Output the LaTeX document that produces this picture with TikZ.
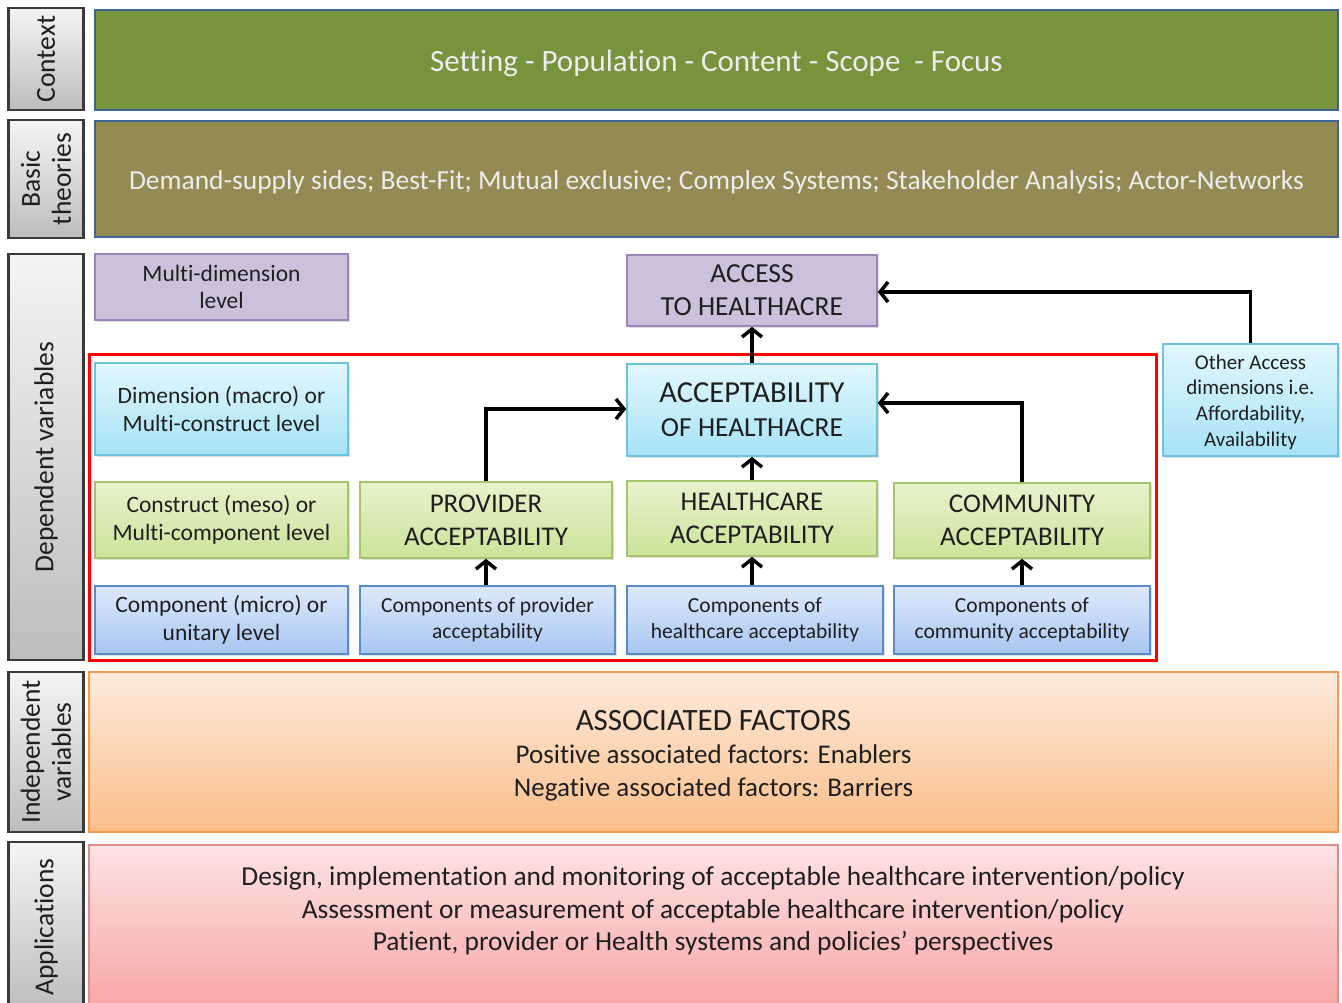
\documentclass[tikz,border=0pt]{standalone}
\usepackage{fontspec}
\setmainfont{Carlito}[Ligatures={NoCommon,NoRare,NoContextual}]
\usetikzlibrary{arrows.meta,shadows}
\definecolor{txt}{HTML}{1F1F1F}
\definecolor{labtop}{HTML}{F4F4F4}
\definecolor{labbot}{HTML}{BDBDBD}
\definecolor{labdraw}{HTML}{3A3A3A}
\definecolor{ctxfill}{HTML}{77933C}
\definecolor{thfill}{HTML}{948A54}
\definecolor{bluedraw}{HTML}{3E6496}
\definecolor{purfill}{HTML}{CCC0DA}
\definecolor{purdraw}{HTML}{9A84B8}
\definecolor{cyantop}{HTML}{E2F7FD}
\definecolor{cyanbot}{HTML}{A6E3F6}
\definecolor{cyandraw}{HTML}{6CC3DD}
\definecolor{grntop}{HTML}{E6F2CC}
\definecolor{grnbot}{HTML}{CBE49A}
\definecolor{grndraw}{HTML}{A6C56A}
\definecolor{blutop}{HTML}{DEE9FA}
\definecolor{blubot}{HTML}{A8C6F2}
\definecolor{bludraw}{HTML}{5B8BC9}
\definecolor{ortop}{HTML}{FDEBDC}
\definecolor{orbot}{HTML}{FBBE8A}
\definecolor{ordraw}{HTML}{F59A4E}
\definecolor{pktop}{HTML}{FDE3E3}
\definecolor{pkbot}{HTML}{F8A6A6}
\definecolor{pkdraw}{HTML}{DE8C8C}
\tikzset{
  base/.style={rectangle, align=center, inner sep=2pt, text=txt},
  labbox/.style={base, draw=labdraw, line width=2.2pt, top color=labtop, bottom color=labbot, minimum width=75},
  labtext/.style={rotate=90, align=center, text=txt, font=\fontsize{27.5}{31}\selectfont},
  bandbox/.style={base, draw=bluedraw, line width=2.2pt},
  bandtext/.style={text=white!93!black, align=center},
  shd/.style={drop shadow={shadow xshift=1.5pt, shadow yshift=-2pt, opacity=0.25}},
  purbox/.style={base, draw=purdraw, line width=1.6pt, fill=purfill, shd},
  cyanbox/.style={base, draw=cyandraw, line width=1.6pt, top color=cyantop, bottom color=cyanbot, shd},
  grnbox/.style={base, draw=grndraw, line width=1.6pt, top color=grntop, bottom color=grnbot, shd},
  blubox/.style={base, draw=bludraw, line width=1.6pt, top color=blutop, bottom color=blubot, shd},
  arr/.style={line width=3.5pt, -{Straight Barb[length=8pt,width=20pt,line width=3.5pt]}},
}
\begin{document}
\begin{tikzpicture}[x=1pt,y=-1pt]
\useasboundingbox (0,0) rectangle (1342,1002);
% left labels
\node[labbox, minimum height=102] (l1) at (46,59) {};
\node[labtext] (l1t) at (l1.center) {Context};
\node[labbox, minimum height=118] (l2) at (46,179) {};
\node[labtext] (l2t) at (l2.center) {Basic\\theories};
\node[labbox, minimum height=406] (l3) at (46,457) {};
\node[labtext] (l3t) at (l3.center) {Dependent variables};
\node[labbox, minimum height=160] (l4) at (46,752) {};
\node[labtext] (l4t) at (l4.center) {Independent\\variables};
\node[labbox, minimum height=170] (l5) at (46,927) {};
\node[labtext] (l5t) at (l5.center) {Applications};
% bands
\node[bandbox, fill=ctxfill, minimum width=1243, minimum height=100] (ctx) at (716.5,60) {};
\node[bandtext, font=\fontsize{31}{34}\selectfont] (ctxt) at (716.5,63) {Setting - Population - Content - Scope \ - Focus};
\node[bandbox, fill=thfill, minimum width=1243, minimum height=116] (th) at (716.5,179) {};
\node[bandtext, font=\fontsize{27.5}{30}\selectfont] (tht) at (716.5,182) {Demand-supply sides; Best-Fit; Mutual exclusive; Complex Systems; Stakeholder Analysis; Actor-Networks};
% red frame
\draw[red, line width=3pt] (89,354) rectangle (1156,660);
% top row
\node[purbox, minimum width=253, minimum height=66, font=\fontsize{23.5}{27}\selectfont] (md) at (221.5,287) {Multi-dimension\\level};
\node[purbox, minimum width=250, minimum height=71, font=\fontsize{27.5}{33}\selectfont] (acc) at (752,290.5) {ACCESS\\TO HEALTHACRE};
% macro row
\node[cyanbox, minimum width=253, minimum height=92, font=\fontsize{23.5}{28}\selectfont] (dim) at (221.5,409) {Dimension (macro) or\\Multi-construct level};
\node[cyanbox, minimum width=250, minimum height=92, font=\fontsize{30.5}{34}\selectfont] (ach) at (752,410) {ACCEPTABILITY\\{\fontsize{27.5}{34}\selectfont OF HEALTHACRE}};
\node[cyanbox, minimum width=175, minimum height=112] (oth) at (1250.5,400) {};
\node[align=center, text=txt, font=\fontsize{21}{25.7}\selectfont] (otht) at (1250.5,402) {Other Access\\dimensions i.e.\\Affordability,\\Availability};
% meso row
\node[grnbox, minimum width=253, minimum height=76, font=\fontsize{23.5}{28}\selectfont] (con) at (221.5,520) {Construct (meso) or\\Multi-component level};
\node[grnbox, minimum width=252, minimum height=76, font=\fontsize{27}{33}\selectfont] (prov) at (486,520) {PROVIDER\\ACCEPTABILITY};
\node[grnbox, minimum width=250, minimum height=75, font=\fontsize{27}{33}\selectfont] (hc) at (752,518.5) {HEALTHCARE\\ACCEPTABILITY};
\node[grnbox, minimum width=256, minimum height=75, font=\fontsize{27}{33}\selectfont] (com) at (1022,520.5) {COMMUNITY\\ACCEPTABILITY};
% micro row
\node[blubox, minimum width=253, minimum height=68, font=\fontsize{23.5}{28}\selectfont] (cmp) at (221.5,620) {Component (micro) or\\unitary level};
\node[blubox, minimum width=255, minimum height=68, font=\fontsize{21.5}{26}\selectfont] (cprov) at (487.5,620) {Components of provider\\acceptability};
\node[blubox, minimum width=256, minimum height=68, font=\fontsize{21.5}{26}\selectfont] (chc) at (755,620) {Components of\\healthcare acceptability};
\node[blubox, minimum width=256, minimum height=68, font=\fontsize{21.5}{26}\selectfont] (ccom) at (1022,620) {Components of\\community acceptability};
% independent / applications
\node[base, draw=ordraw, line width=1.6pt, top color=ortop, bottom color=orbot, minimum width=1249, minimum height=160] (ind) at (713.5,752) {};
\node[align=center, text=txt, font=\fontsize{27}{33}\selectfont] (indt) at (713.5,756) {{\fontsize{31}{33}\selectfont ASSOCIATED FACTORS}\\Positive associated factors: Enablers\\Negative associated factors: Barriers};
\node[base, draw=pkdraw, line width=1.6pt, top color=pktop, bottom color=pkbot, minimum width=1249, minimum height=162] (app) at (713.5,926) {};
\node[align=center, text=txt, font=\fontsize{27.4}{32.5}\selectfont] (appt) at (713,911) {Design, implementation and monitoring of acceptable healthcare intervention/policy\\Assessment or measurement of acceptable healthcare intervention/policy\\Patient, provider or Health systems and policies’ perspectives};
% arrows
\draw[arr] (ach.north) -- (acc.south);
\draw[arr] (hc.north) -- (ach.south);
\draw[arr] (prov.north) |- ([yshift=1pt]ach.west);
\draw[arr] (com.north) |- ([yshift=7pt]ach.east);
\draw[arr] (oth.north) |- ([yshift=-1.5pt]acc.east);
\draw[arr] (cprov.north -| prov.south) -- (prov.south);
\draw[arr] (chc.north -| hc.south) -- (hc.south);
\draw[arr] (ccom.north) -- (com.south);
\end{tikzpicture}
\end{document}
